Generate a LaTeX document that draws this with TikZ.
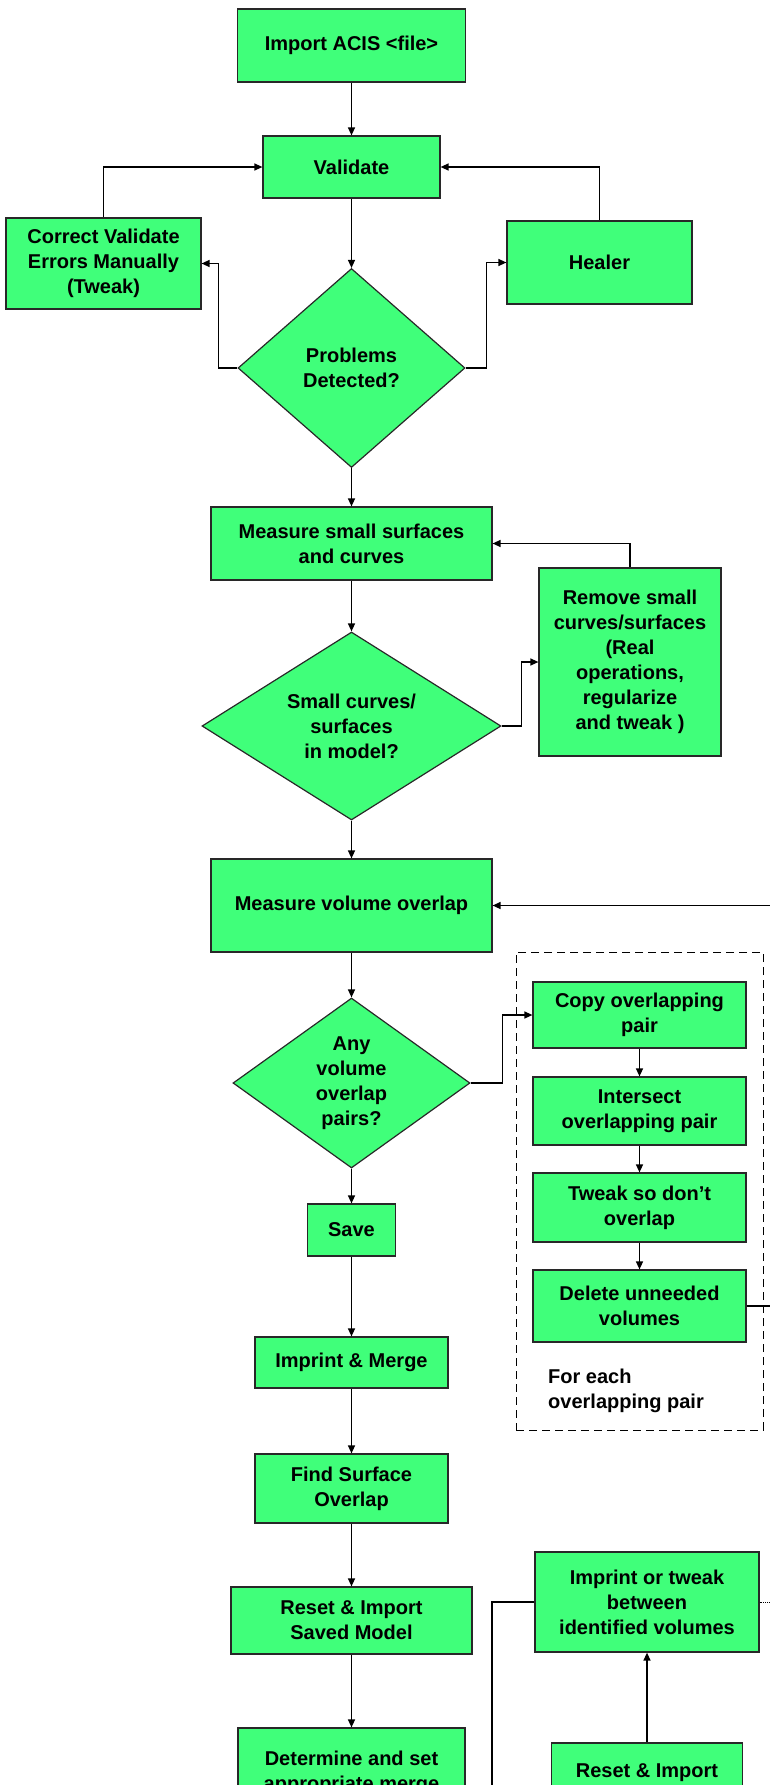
\documentclass[tikz,border=0pt]{standalone}
\usepackage{fontspec}
\setmainfont{Liberation Sans}
\usetikzlibrary{shapes.geometric,arrows.meta,calc}
\definecolor{boxgreen}{RGB}{64,255,122}
\definecolor{edgegray}{RGB}{40,40,40}

\begin{document}
\begin{tikzpicture}[x=1pt,y=-1pt,
  every node/.style={font=\fontsize{20}{25}\selectfont\bfseries, align=center},
  box/.style={rectangle, draw=edgegray, line width=1.2pt, fill=boxgreen, inner sep=0pt},
  decision/.style={diamond, draw=edgegray, line width=1.2pt, fill=boxgreen, inner sep=0pt},
  link/.style={draw=black, line width=1.3pt, -{Triangle[length=8pt,width=7pt]}},
  plain/.style={draw=black, line width=1.3pt},
]
\useasboundingbox (0,0) rectangle (770,1785);
\clip (0,0) rectangle (770,1785);

% dashed group around the per-pair loop
\node[draw=black, line width=1pt, dash pattern=on 8pt off 5pt, minimum width=247pt,
      minimum height=478pt, inner sep=0pt] (group) at (639.5,1191) {};

% main column
\node[box, minimum width=228pt, minimum height=73pt] (imp) at (351.5,45.5) {Import ACIS <file>};
\node[box, minimum width=177pt, minimum height=62pt] (val) at (351.5,167) {Validate};
\node[decision, minimum width=227pt, minimum height=199pt, aspect=1.14] (d1) at (351.5,368) {Problems\\Detected?};
\node[box, minimum width=281pt, minimum height=73pt] (msm) at (351.5,543.5) {Measure small surfaces\\and curves};
\node[decision, minimum width=299pt, minimum height=188pt, aspect=1.59] (d2) at (351.5,726) {Small curves/\\surfaces\\in model?};
\node[box, minimum width=281pt, minimum height=93pt] (mvo) at (351.5,905.5) {Measure volume overlap};
\node[decision, minimum width=237pt, minimum height=170pt, aspect=1.39] (d3) at (351.5,1083) {Any\\volume\\overlap\\pairs?};
\node[box, minimum width=88pt, minimum height=52pt] (save) at (351.5,1230) {Save};
\node[box, minimum width=193pt, minimum height=51pt] (imm) at (351.5,1362.5) {Imprint \& Merge};
\node[box, minimum width=193pt, minimum height=69pt] (fso) at (351.5,1488.5) {Find Surface\\Overlap};
\node[box, minimum width=241pt, minimum height=67pt] (rsm) at (351.5,1620.5) {Reset \& Import\\Saved Model};
\node[box, minimum width=227pt, minimum height=89pt] (det) at (351.5,1772.5) {Determine and set\\appropriate merge};

% side boxes
\node[box, minimum width=195pt, minimum height=91pt] (corr) at (103.5,263.5) {Correct Validate\\Errors Manually\\(Tweak)};
\node[box, minimum width=185pt, minimum height=83pt] (heal) at (599.5,262.5) {Healer};
\node[box, minimum width=182pt, minimum height=188pt] (rem) at (630,662) {Remove small\\curves/surfaces\\(Real\\operations,\\regularize\\and tweak )};

% per-pair loop
\node[box, minimum width=213pt, minimum height=66pt] (copy) at (639.5,1015) {Copy overlapping\\pair};
\node[box, minimum width=213pt, minimum height=68pt] (inter) at (639.5,1111) {Intersect\\overlapping pair};
\node[box, minimum width=213pt, minimum height=69pt] (tweak) at (639.5,1207.5) {Tweak so don’t\\overlap};
\node[box, minimum width=213pt, minimum height=72pt] (del) at (639.5,1306) {Delete unneeded\\volumes};
\node[anchor=west, align=left, inner sep=0pt] (note) at (548,1391) {For each\\overlapping pair};

% lower right branch
\node[box, minimum width=224pt, minimum height=100pt] (itw) at (647,1602) {Imprint or tweak\\between\\identified volumes};
\node[box, minimum width=191pt, minimum height=60pt] (ri) at (647,1773) {Reset \& Import};

% free ends at the border
\coordinate (delout) at (775,1306);
\coordinate (mvoin) at (775,905.5);
\coordinate (itwout) at (775,1602);
\coordinate (itwdown) at (492,1795);

% connectors
\draw[link] (imp.south) -- (val.north);
\draw[link] (val.south) -- (d1.north);
\draw[link] (corr.north) |- (val.west);
\draw[link] (heal.north) |- (val.east);
\draw[link] (d1.west) -- ++(-19,0) |- (corr.east);
\draw[link] (d1.east) -- ++(21,0) |- (heal.west);
\draw[link] (d1.south) -- (msm.north);
\draw[link] (msm.south) -- (d2.north);
\draw[link] (d2.east) -- ++(20,0) |- (rem.west);
\draw[link] (rem.north) |- (msm.east);
\draw[link] (d2.south) -- (mvo.north);
\draw[link] (mvo.south) -- (d3.north);
\draw[link] (d3.east) -- ++(32,0) |- (copy.west);
\draw[link] (copy.south) -- (inter.north);
\draw[link] (inter.south) -- (tweak.north);
\draw[link] (tweak.south) -- (del.north);
\draw[plain] (del.east) -- (delout);
\draw[link] (mvoin) -- (mvo.east);
\draw[link] (d3.south) -- (save.north);
\draw[link] (save.south) -- (imm.north);
\draw[link] (imm.south) -- (fso.north);
\draw[link] (fso.south) -- (rsm.north);
\draw[link] (rsm.south) -- (det.north);
\draw[link] (ri.north) -- (itw.south);
\draw[plain] (itw.west) -| (itwdown);
\draw[black, line width=0.8pt, densely dotted] (itw.east) -- (itwout);
\end{tikzpicture}
\end{document}
